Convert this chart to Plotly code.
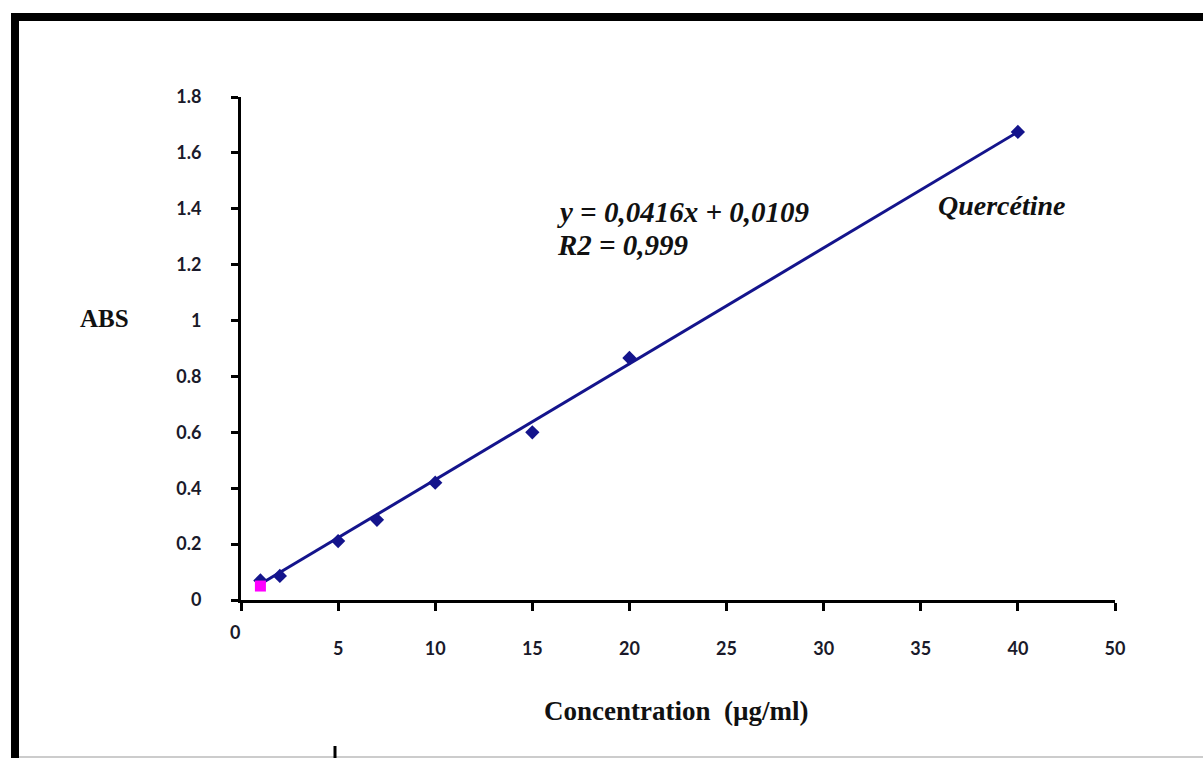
import plotly.graph_objects as go

# Data
conc = [1, 2, 5, 7, 10, 15, 20, 40]
abs_vals = [0.07, 0.086, 0.211, 0.287, 0.42, 0.60, 0.866, 1.675]
blank_x = [1]
blank_y = [0.05]
trend_x = [1, 40]
trend_y = [0.057, 1.675]

x_tickvals = [0, 5, 10, 15, 20, 25, 30, 35, 40, 45]
x_ticktext = ["", "5", "10", "15", "20", "25", "30", "35", "40", "50"]
y_tickvals = [0, 0.2, 0.4, 0.6, 0.8, 1.0, 1.2, 1.4, 1.6, 1.8]
y_ticktext = ["0", "0.2", "0.4", "0.6", "0.8", "1", "1.2", "1.4", "1.6", "1.8"]

W, H = 1203, 758
L, R, T, B = 241, 88, 97, 158
PW, PH = W - L - R, H - T - B

def px(x):
    return (x - L) / PW

def py(y):
    return (H - B - y) / PH

NAVY = "#14148c"

fig = go.Figure()
fig.add_trace(go.Scatter(x=trend_x, y=trend_y, mode="lines",
                         line=dict(color=NAVY, width=3), showlegend=False,
                         hoverinfo="skip"))
fig.add_trace(go.Scatter(x=conc, y=abs_vals, mode="markers",
                         marker=dict(symbol="diamond", size=11, color=NAVY),
                         showlegend=False))
fig.add_trace(go.Scatter(x=blank_x, y=blank_y, mode="markers",
                         marker=dict(symbol="square", size=11, color="#ff00ff"),
                         showlegend=False))

tickfont = dict(family="Lato, 'Open Sans', sans-serif", size=18,
                color="#1a1a2a", weight="bold")

fig.update_xaxes(range=[0, 45], tickvals=x_tickvals, ticktext=x_ticktext,
                 showgrid=False, zeroline=False, showline=True,
                 linecolor="black", linewidth=3, ticks="outside",
                 ticklen=8, tickwidth=3, tickcolor="black",
                 tickfont=tickfont, ticklabelstandoff=22)
fig.update_yaxes(range=[0, 1.8], tickvals=y_tickvals, ticktext=y_ticktext,
                 showgrid=False, zeroline=False, showline=True,
                 linecolor="black", linewidth=3, ticks="outside",
                 ticklen=7, tickwidth=3, tickcolor="black",
                 tickfont=tickfont, ticklabelstandoff=26)

serif = "Liberation Serif, 'Times New Roman', serif"

def ann(text, x, y, size, xanchor="center", font=None):
    return dict(text=text, x=px(x), y=py(y), xref="paper", yref="paper",
                xanchor=xanchor, yanchor="middle", showarrow=False,
                font=font or dict(family=serif, size=size, color="#111111"))

annotations = [
    ann("<b>0</b>", 235, 632, 18, font=tickfont),
    ann("<b>ABS</b>", 104, 318, 25),
    ann("<b>Concentration  (µg/ml)</b>", 676, 711, 27),
    ann("<b><i>y = 0,0416x + 0,0109</i></b>", 555, 212, 29, xanchor="left"),
    ann("<b><i>R2 = 0,999</i></b>", 555, 245, 29, xanchor="left"),
    ann("<b><i>Quercétine</i></b>", 1002, 205, 28),
]

shapes = [
    dict(type="line", xref="paper", yref="paper", x0=px(15), x1=px(15),
         y0=py(13), y1=py(760), line=dict(color="black", width=8)),
    dict(type="line", xref="paper", yref="paper", x0=px(11), x1=px(1210),
         y0=py(17), y1=py(17), line=dict(color="black", width=8)),
    dict(type="line", xref="paper", yref="paper", x0=px(19), x1=px(1210),
         y0=py(757), y1=py(757), line=dict(color="#999999", width=1)),
    dict(type="line", xref="paper", yref="paper", x0=px(335), x1=px(335),
         y0=py(746), y1=py(760), line=dict(color="black", width=3)),
]

fig.update_layout(width=W, height=H, margin=dict(l=L, r=R, t=T, b=B),
                  paper_bgcolor="white", plot_bgcolor="white",
                  annotations=annotations, shapes=shapes, showlegend=False)

fig.write_html("out.html")
